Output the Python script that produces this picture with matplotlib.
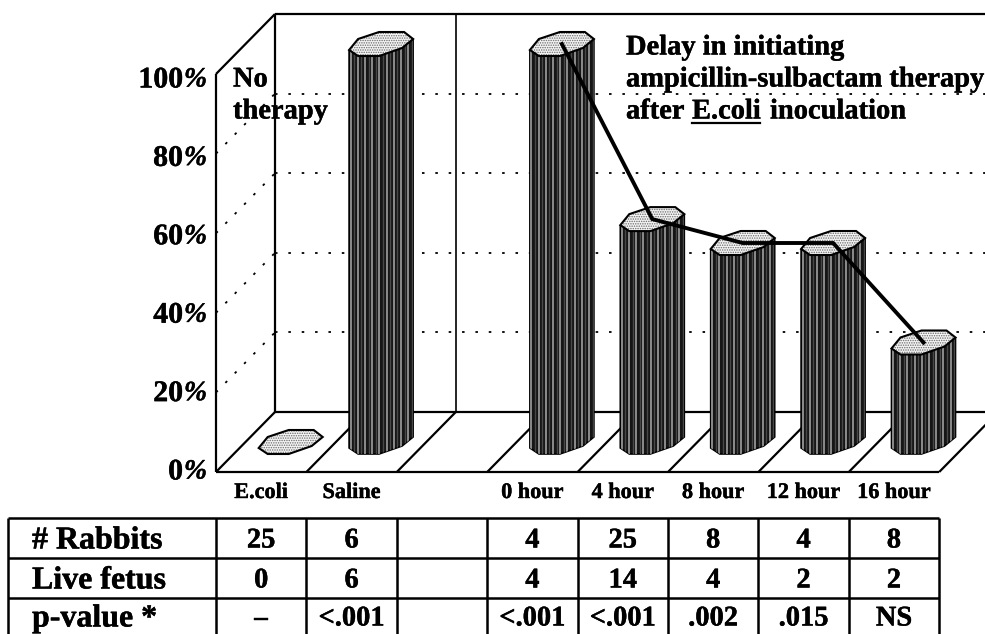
import matplotlib
matplotlib.use('Agg')
import matplotlib.pyplot as plt
import matplotlib.patheffects as pe
from matplotlib.patches import Polygon

categories = ['E.coli', 'Saline', '', '0 hour', '4 hour', '8 hour', '12 hour', '16 hour']
survival = [0, 100, None, 100, 56, 50, 50, 25]
line_slots = [3, 4, 5, 6, 7]
line_values = [100, 56, 50, 50, 25]
y_ticks = [0, 20, 40, 60, 80, 100]

row_names = ['# Rabbits', 'Live fetus', 'p-value *']
rabbits = ['25', '6', '', '4', '25', '8', '4', '8']
live_fetus = ['0', '6', '', '4', '14', '4', '2', '2']
p_values = ['\u2013', '<.001', '', '<.001', '<.001', '.002', '.015', 'NS']

W, H = 985, 634
SLOT = 90.4
UNIT = 3.98
DX = 59 / SLOT
DY = 60 / UNIT
X0, Y0 = 216, 472

plt.rcParams['font.family'] = 'Liberation Serif'
plt.rcParams['font.weight'] = 'bold'
plt.rcParams['hatch.linewidth'] = 0.7

fig = plt.figure(figsize=(W / 100, H / 100), dpi=100)
ax = fig.add_axes([0, 0, 1, 1])
ax.set_xlim(-X0 / SLOT, (W - X0) / SLOT)
ax.set_ylim(-(H - Y0) / UNIT, Y0 / UNIT)
ax.axis('off')

# overlay in pixels, for the table and the texts
px = fig.add_axes([0, 0, 1, 1])
px.set_xlim(0, W)
px.set_ylim(H, 0)
px.axis('off')
px.patch.set_alpha(0)

heavy = [pe.withStroke(linewidth=0.3, foreground='black')]
n = len(categories)
x_end = (W - X0) / SLOT
wall = dict(color='black', lw=1.6, solid_capstyle='butt')
dots = dict(color='black', lw=1.3, dashes=(1.4, 6))

# walls and floor
ax.plot([0, n], [0, 0], **wall)
ax.plot([DX, x_end], [DY, DY], **wall)
ax.plot([DX, x_end], [100 + DY, 100 + DY], **wall)
ax.plot([DX, DX], [DY, 100 + DY], **wall)
ax.plot([0, 0], [0, 100], **wall)
ax.plot([0, DX], [100, 100 + DY], **wall)
ax.plot([2 + DX, 2 + DX], [DY, 100 + DY], color='black', lw=1.2)
for i in range(n + 1):
    ax.plot([i, i + DX], [0, DY], **wall)

for v in y_ticks[1:-1]:
    ax.plot([DX, x_end], [v + DY, v + DY], **dots)
    ax.plot([0, DX], [v, v + DY], **dots)


def cap_points(slot, value):
    cx = slot + 0.5 + DX / 2
    cy = value + DY / 2
    shape = [(-32, 6), (-23, -5), (-2, -12), (23, -12), (32, -5), (21, 4), (-2, 12), (-23, 12)]
    return [(cx + a / SLOT, cy - b / UNIT) for a, b in shape]


for slot, value in enumerate(survival):
    if value is None:
        continue
    cap = cap_points(slot, value)
    if value > 0:
        base = cap_points(slot, 0)
        body = [cap[0], cap[7], cap[6], cap[5], cap[4], base[4], base[5], base[6], base[7], base[0]]
        patch = Polygon(body, closed=True, fc='#161616', ec='black', lw=1.2, zorder=3)
        ax.add_patch(patch)
        left = cap[0][0]
        for k in range(18):
            x = left + (1.5 + 3.6 * k) / SLOT
            light = k % 2 == 0
            stripe, = ax.plot([x, x], [-2, value + DY + 5], zorder=3.1,
                              color='#a0a0a0' if light else '#484848', lw=1.2 if light else 1.0)
            stripe.set_clip_path(patch)
    ax.add_patch(Polygon(cap, closed=True, fc='#f4f4f4', ec='#6a6a6a', hatch='.......', lw=0, zorder=4))
    ax.add_patch(Polygon(cap, closed=True, fc='none', ec='black', lw=1.5, zorder=4.1))

line_x = [s + 0.5 + DX / 2 for s in line_slots]
line_y = [v + DY / 2 for v in line_values]
ax.plot(line_x, line_y, color='black', lw=2.8, zorder=5, solid_joinstyle='miter')

# value axis labels, the digits upright and the sign slanted
for v in y_ticks:
    y = v * 0.985
    ax.text(-33 / SLOT, y, str(v), ha='right', va='center', fontsize=21.5, zorder=6, path_effects=heavy)
    ax.text(-9 / SLOT, y, '%', ha='right', va='center', fontsize=20, style='italic', zorder=6, path_effects=heavy)

# texts in the chart
note = dict(fontsize=20.5, va='center', zorder=6, path_effects=heavy)
px.text(233, 80, 'No', **note)
px.text(233, 112, 'therapy', **note)
px.text(626, 48, 'Delay in initiating', **note)
px.text(626, 80, 'ampicillin-sulbactam therapy', **note)
px.text(626, 112, 'after', **note)
px.text(692, 112, 'E.coli', **note)
px.plot([692, 760], [123, 123], color='black', lw=1.6, zorder=6)
px.text(770, 112, 'inoculation', **note)

for i, name in enumerate(categories):
    ax.text(i + 0.5, -21 / UNIT, name, ha='center', va='center', fontsize=16, path_effects=heavy)

# table under the chart
row_tops = [518, 558, 598, 634]
left_edge = 8
for y in row_tops[:3]:
    px.plot([left_edge, X0 + SLOT * n], [y, y], color='black', lw=1.8, solid_capstyle='butt')
col_edges = [left_edge] + [X0 + SLOT * i for i in range(n + 1)]
for x in col_edges:
    px.plot([x, x], [518, 634], color='black', lw=1.8, solid_capstyle='butt')

for r, (name, cells) in enumerate(zip(row_names, [rabbits, live_fetus, p_values])):
    y = (row_tops[r] + row_tops[r + 1]) / 2 + 3
    px.text(32, y, name, fontsize=23, va='center', path_effects=heavy)
    for i, cell in enumerate(cells):
        px.text(X0 + SLOT * (i + 0.5), y, cell, fontsize=20.5, ha='center', va='center', path_effects=heavy)

fig.savefig('out.png', dpi=100)
